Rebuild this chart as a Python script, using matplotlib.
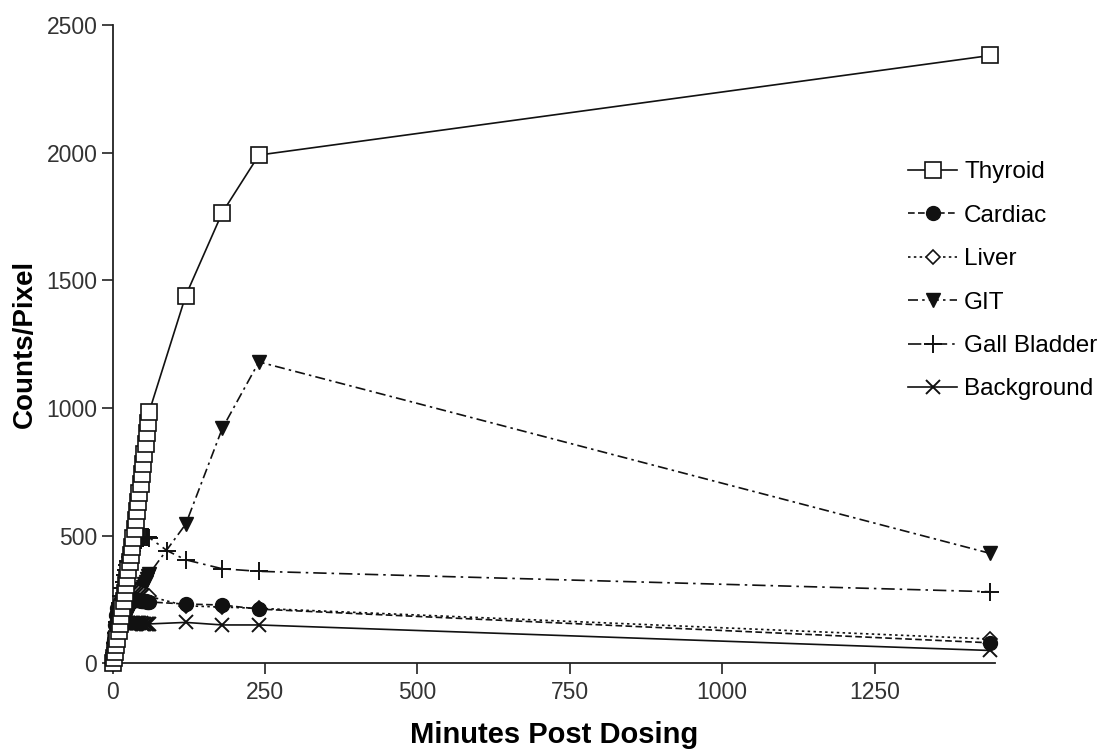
import matplotlib
matplotlib.use("Agg")
import matplotlib.pyplot as plt

plt.rcParams['font.family'] = ['Liberation Sans', 'DejaVu Sans']

times = [0, 2, 4, 6, 8, 10, 12, 14, 16, 18, 20, 22, 24, 26, 28, 30, 32, 34, 36, 38,
         40, 42, 44, 46, 48, 50, 52, 54, 56, 58, 60, 120, 180, 240, 1440]
times_gb = [0, 2, 4, 6, 8, 10, 12, 14, 16, 18, 20, 22, 24, 26, 28, 30, 32, 34, 36, 38,
            40, 42, 44, 46, 48, 50, 52, 54, 56, 58, 60, 90, 120, 180, 240, 1440]

thyroid = [0, 20, 45, 70, 95, 125, 155, 185, 215, 245, 275, 305, 335, 365, 395, 425,
           455, 490, 525, 560, 595, 630, 665, 700, 740, 780, 820, 860, 900, 940, 985,
           1440, 1765, 1990, 2380]
cardiac = [0, 90, 150, 190, 215, 230, 240, 245, 250, 252, 254, 255, 255, 255, 254, 253,
           252, 251, 250, 249, 248, 247, 246, 245, 245, 244, 243, 242, 241, 240, 240,
           232, 228, 212, 80]
liver = [0, 60, 110, 150, 180, 205, 225, 240, 255, 265, 272, 278, 282, 285, 287, 288,
         288, 287, 286, 284, 282, 280, 278, 276, 274, 272, 270, 268, 266, 264, 262,
         225, 220, 215, 95]
git = [0, 30, 55, 75, 95, 110, 125, 140, 150, 160, 170, 180, 190, 200, 210, 220,
       228, 236, 244, 252, 260, 268, 276, 284, 292, 300, 310, 320, 330, 340, 350,
       545, 920, 1180, 430]
gall_bladder = [0, 40, 80, 120, 160, 200, 235, 265, 295, 320, 345, 365, 385, 400, 415, 428,
                440, 450, 460, 468, 475, 480, 485, 488, 490, 492, 493, 494, 494, 493, 492,
                440, 405, 370, 360, 280]
background = [0, 60, 100, 125, 140, 148, 152, 155, 156, 157, 157, 158, 158, 158, 158, 158,
              158, 158, 157, 157, 157, 156, 156, 156, 155, 155, 155, 155, 154, 154, 154,
              160, 150, 150, 50]

x_ticks = [0, 250, 500, 750, 1000, 1250]
y_ticks = [0, 500, 1000, 1500, 2000, 2500]

fig = plt.figure(figsize=(11.04, 7.52), dpi=100)
ax = fig.add_axes([0.102, 0.118, 0.799, 0.849])

lc = '#111111'
lw = 1.2
ax.plot(times, background, color=lc, lw=lw, ls='-', marker='x', ms=10, mew=1.4,
        label='Background', clip_on=False, zorder=2)
ax.plot(times_gb, gall_bladder, color=lc, lw=lw, ls=(0, (8, 3, 1.5, 3)), marker='+', ms=13,
        mew=1.4, label='Gall Bladder', clip_on=False, zorder=3)
ax.plot(times, git, color=lc, lw=lw, ls=(0, (6, 2.5, 1.5, 2.5)), marker='v', ms=10,
        mfc=lc, mec=lc, label='GIT', clip_on=False, zorder=4)
ax.plot(times, liver, color=lc, lw=lw, ls=(0, (1.5, 2)), marker='D', ms=7, mfc='white',
        mec=lc, mew=1.2, label='Liver', clip_on=False, zorder=5)
ax.plot(times, cardiac, color=lc, lw=lw, ls=(0, (4, 2)), marker='o', ms=10, mfc=lc,
        mec=lc, label='Cardiac', clip_on=False, zorder=6)
ax.plot(times, thyroid, color=lc, lw=lw, ls='-', marker='s', ms=11.5, mfc='white',
        mec=lc, mew=1.2, label='Thyroid', clip_on=False, zorder=7)

ax.set_xlim(0, 1447)
ax.set_ylim(0, 2500)
ax.set_xticks(x_ticks)
ax.set_yticks(y_ticks)
ax.spines['top'].set_visible(False)
ax.spines['right'].set_visible(False)
for s in ('left', 'bottom'):
    ax.spines[s].set_linewidth(1.3)
    ax.spines[s].set_color('#222222')
ax.tick_params(direction='out', length=8, width=1.2, labelsize=16.5, colors='#222222',
               labelcolor='#333333')
ax.tick_params(axis='x', pad=5)
ax.tick_params(axis='y', pad=3)

ax.set_xlabel('Minutes Post Dosing', fontsize=21, fontweight='bold', labelpad=12)
ax.set_ylabel('Counts/Pixel', fontsize=20, fontweight='bold', labelpad=6)

handles, labels = ax.get_legend_handles_labels()
order = ['Thyroid', 'Cardiac', 'Liver', 'GIT', 'Gall Bladder', 'Background']
hmap = dict(zip(labels, handles))
leg = ax.legend([hmap[k] for k in order], order, loc='upper left',
                bbox_to_anchor=(0.902, 0.786), frameon=False, fontsize=17.5,
                handlelength=2.0, handletextpad=0.3, labelspacing=0.88,
                borderpad=0, borderaxespad=0)

fig.savefig('out.png', dpi=100)
